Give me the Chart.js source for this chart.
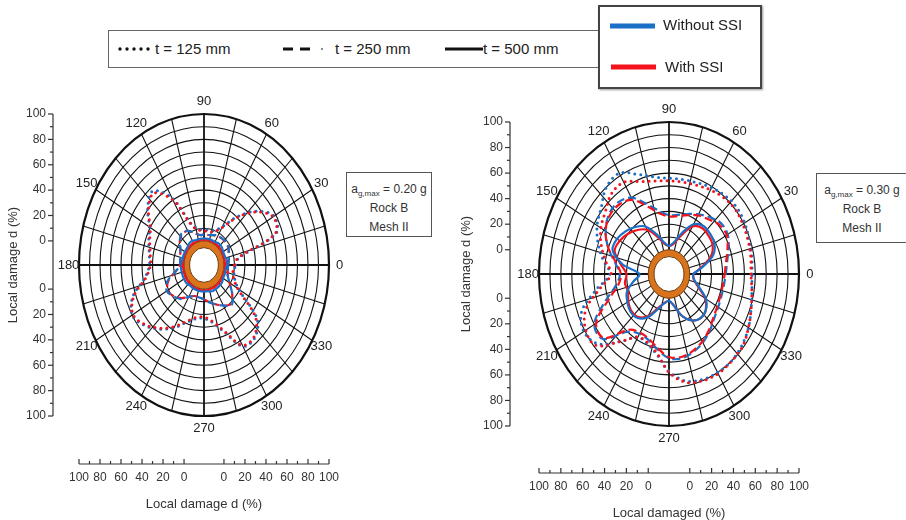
<!DOCTYPE html>
<html>
<head>
<meta charset="utf-8">
<title>Local damage – polar plots</title>
<script src="https://cdn.jsdelivr.net/npm/chart.js@4.4.0/dist/chart.umd.min.js"></script>
<style>
  body { margin: 0; background: #fff; font-family: "Liberation Sans", Arial, sans-serif; color: #222; }
  #page { position: relative; width: 906px; height: 520px; overflow: hidden; }
  #page canvas { position: absolute; top: 0; }
  .box { position: absolute; background: #fff; box-sizing: border-box; }
  .lg { position: absolute; font-size: 15px; line-height: 18px; color: #222; white-space: nowrap; }
  .lg svg { position: absolute; }
  .note { position: absolute; border: 1.3px solid #555; background: #fff; box-sizing: border-box;
          font-size: 12px; line-height: 19px; text-align: center; padding-top: 7px; color: #333; }
  .note sub { font-size: 8px; vertical-align: -3px; line-height: 0; }
</style>
</head>
<body>
<div id="page">
  <canvas id="plotA" width="453" height="520" style="left:0"></canvas>
  <canvas id="plotB" width="453" height="520" style="left:453px"></canvas>

  <!-- thickness legend -->
  <div class="box" style="left:108px;top:30px;width:500px;height:38px;border:1.5px solid #666;"></div>
  <svg class="lg" style="left:117px;top:46px" width="36" height="6"><line x1="3" y1="3" x2="34" y2="3" stroke="#111" stroke-width="3.4" stroke-linecap="round" stroke-dasharray="0 7"/></svg>
  <div class="lg" style="left:155px;top:40px">t = 125 mm</div>
  <svg class="lg" style="left:282px;top:46px" width="44" height="6"><line x1="1" y1="3" x2="32" y2="3" stroke="#111" stroke-width="3" stroke-dasharray="10 7"/><circle cx="40" cy="3" r="1" fill="#666"/></svg>
  <div class="lg" style="left:335px;top:40px">t = 250 mm</div>
  <svg class="lg" style="left:445px;top:46px" width="38" height="6"><line x1="0" y1="3" x2="38" y2="3" stroke="#111" stroke-width="3"/></svg>
  <div class="lg" style="left:483px;top:40px">t = 500 mm</div>

  <!-- soil-structure interaction legend -->
  <div class="box" style="left:598px;top:5px;width:164px;height:84px;border:2px solid #444;box-shadow:1px 1px 2px #999;"></div>
  <svg class="lg" style="left:610px;top:23px" width="45" height="6"><line x1="0" y1="3" x2="45" y2="3" stroke="#1b6fc6" stroke-width="5"/></svg>
  <div class="lg" style="left:663px;top:16px">Without SSI</div>
  <svg class="lg" style="left:611px;top:64px" width="45" height="6"><line x1="0" y1="3" x2="45" y2="3" stroke="#f2131c" stroke-width="5"/></svg>
  <div class="lg" style="left:665px;top:58px">With SSI</div>

  <!-- load case notes -->
  <div class="note" style="left:346px;top:172px;width:86px;height:65px;">a<sub>g,max</sub> = 0.20 g<br>Rock B<br>Mesh II</div>
  <div class="note" style="left:816px;top:173px;width:100px;height:70px;padding-right:8px;">a<sub>g,max</sub> = 0.30 g<br>Rock B<br>Mesh II</div>
</div>

<script>
// direction of the local damage value, degrees
const ANGLES = [0, 10, 20, 30, 40, 50, 60, 70, 80, 90, 100, 110,
                120, 130, 140, 150, 160, 170, 180, 190, 200, 210, 220, 230,
                240, 250, 260, 270, 280, 290, 300, 310, 320, 330, 340, 350];

// ag,max = 0.20 g — local damage d (%)
const A_125_FREE = [11, 15, 54, 58, 47, 31, 16, 10, 9, 9, 10, 15, 42, 57, 51, 41, 37, 34, 33, 38, 53, 60, 55, 47, 38, 29, 24, 23, 27, 37, 55, 56, 47, 19, 12, 10];
const A_125_SSI  = [10, 14, 53, 57, 46, 30, 15, 9, 8, 8, 9, 14, 40, 55, 50, 40, 36, 33, 32, 37, 52, 59, 54, 46, 37, 28, 23, 22, 26, 36, 54, 55, 45, 18, 11, 9];
const A_250_FREE = [4, 5, 6, 8, 9, 8, 8, 6, 5, 5, 5, 8, 12, 14, 11, 7, 5, 4, 4, 8, 18, 22, 19, 16, 10, 7, 7, 8, 11, 14, 18, 22, 16, 9, 5, 4];
const A_250_SSI  = [4, 5, 6, 8, 8, 8, 7, 6, 5, 5, 5, 8, 12, 13, 11, 7, 5, 4, 4, 8, 17, 21, 19, 15, 10, 7, 7, 8, 11, 14, 18, 21, 16, 9, 5, 4];
const A_500_FREE = [3, 3, 2, 2, 3, 3, 2, 2, 2, 2, 2, 2, 3, 3, 2, 2, 2, 2, 3, 3, 3, 3, 3, 2, 2, 2, 2, 2, 2, 3, 3, 3, 3, 2, 2, 2];
const A_500_SSI  = [1, 1, 1, 1, 1, 1, 1, 1, 1, 1, 1, 1, 1, 1, 1, 1, 1, 1, 1, 1, 1, 1, 1, 1, 1, 1, 1, 1, 1, 1, 1, 1, 1, 1, 1, 1];

// ag,max = 0.30 g — local damage d (%)
const B_125_FREE = [57, 58, 59, 61, 62, 61, 59, 57, 56, 56, 58, 64, 72, 70, 62, 57, 50, 42, 35, 48, 66, 71, 66, 50, 38, 39, 45, 57, 66, 69, 70, 70, 68, 65, 61, 58];
const B_125_SSI  = [56, 57, 58, 59, 60, 59, 57, 55, 54, 54, 55, 58, 64, 63, 57, 53, 47, 40, 34, 45, 62, 69, 68, 50, 38, 38, 44, 58, 67, 70, 71, 70, 69, 65, 61, 58];
const B_250_FREE = [33, 35, 39, 43, 43, 39, 35, 31, 28, 27, 31, 39, 50, 54, 53, 48, 40, 31, 26, 30, 43, 60, 60, 40, 35, 36, 41, 47, 48, 46, 43, 39, 35, 33, 32, 32];
const B_250_SSI  = [32, 34, 38, 42, 41, 37, 34, 30, 27, 26, 29, 37, 48, 52, 52, 48, 40, 30, 25, 28, 40, 58, 59, 38, 34, 35, 40, 46, 47, 45, 42, 38, 34, 32, 31, 31];
const B_500_FREE = [3, 12, 24, 29, 30, 30, 26, 15, 6, 3, 6, 14, 24, 29, 33, 36, 36, 24, 8, 14, 22, 25, 27, 26, 20, 10, 4, 2, 6, 16, 23, 26, 25, 20, 10, 4];
const B_500_SSI  = [3, 11, 22, 27, 28, 28, 24, 13, 5, 3, 5, 12, 21, 26, 30, 33, 34, 26, 20, 22, 21, 24, 26, 25, 19, 9, 4, 2, 6, 16, 23, 26, 25, 19, 9, 4];

// axis labels
const SIDE_TICKS = [0, 20, 40, 60, 80, 100];
const ANGLE_LABELS = [0, 30, 60, 90, 120, 150, 180, 210, 240, 270, 300, 330];

const HOLE = 19;            // tunnel section drawn in the middle (damage units)
const R_MAX = HOLE + 100;
const BLUE = '#1b6fc6';
const RED = '#f2131c';

function polarPoints(values) {
  const pts = ANGLES.map((a, i) => {
    const r = HOLE + values[i];
    const t = a * Math.PI / 180;
    return { x: r * Math.cos(t), y: r * Math.sin(t) };
  });
  pts.push(pts[0]);
  return pts;
}

const STYLE = {
  125: { borderDash: [0, 6], borderWidth: 3, borderCapStyle: 'round' },
  250: { borderDash: [8, 4], borderWidth: 2.2, borderCapStyle: 'butt' },
  500: { borderDash: [], borderWidth: 2.2, borderCapStyle: 'butt' }
};

// lower "order" is painted later, i.e. on top
function series(values, color, t, order) {
  return Object.assign({
    data: polarPoints(values),
    borderColor: color,
    showLine: true,
    pointRadius: 0,
    tension: 0.35,
    fill: false,
    order: order
  }, STYLE[t]);
}

// polar grid, tunnel ring, angle labels and the two side axes
const polarFrame = {
  id: 'polarFrame',
  beforeDatasetsDraw(chart) {
    const { ctx, scales: { x, y } } = chart;
    const cx = x.getPixelForValue(0), cy = y.getPixelForValue(0);
    const kx = x.getPixelForValue(1) - cx, ky = cy - y.getPixelForValue(1);
    ctx.save();
    ctx.strokeStyle = '#111';
    for (let d = 10; d <= 100; d += 10) {
      ctx.lineWidth = d === 100 ? 2.2 : 1.1;
      ctx.beginPath();
      ctx.ellipse(cx, cy, (HOLE + d) * kx, (HOLE + d) * ky, 0, 0, Math.PI * 2);
      ctx.stroke();
    }
    for (let a = 0; a < 360; a += 15) {
      const t = a * Math.PI / 180;
      ctx.lineWidth = a % 90 === 0 ? 1.8 : 1.1;
      ctx.beginPath();
      ctx.moveTo(cx + HOLE * kx * Math.cos(t), cy - HOLE * ky * Math.sin(t));
      ctx.lineTo(cx + R_MAX * kx * Math.cos(t), cy - R_MAX * ky * Math.sin(t));
      ctx.stroke();
    }
    // tunnel lining
    const rin = HOLE * 0.72;
    ctx.beginPath();
    ctx.ellipse(cx, cy, HOLE * kx, HOLE * ky, 0, 0, Math.PI * 2);
    ctx.ellipse(cx, cy, rin * kx, rin * ky, 0, Math.PI * 2, 0, true);
    ctx.fillStyle = '#d9741c';
    ctx.fill('evenodd');
    ctx.lineWidth = 1;
    ctx.strokeStyle = '#6b3c12';
    ctx.beginPath();
    ctx.ellipse(cx, cy, HOLE * kx, HOLE * ky, 0, 0, Math.PI * 2);
    ctx.stroke();
    ctx.beginPath();
    ctx.ellipse(cx, cy, rin * kx, rin * ky, 0, 0, Math.PI * 2);
    ctx.stroke();
    ctx.restore();
  },
  afterDraw(chart, args, opts) {
    const { ctx, chartArea, scales: { x, y } } = chart;
    const cx = x.getPixelForValue(0), cy = y.getPixelForValue(0);
    const kx = x.getPixelForValue(1) - cx, ky = cy - y.getPixelForValue(1);
    ctx.save();
    ctx.fillStyle = '#222';
    ctx.font = '13px "Liberation Sans", Arial, sans-serif';
    ctx.textAlign = 'center';
    ctx.textBaseline = 'middle';
    const rl = R_MAX + 10;
    for (const a of ANGLE_LABELS) {
      const t = a * Math.PI / 180;
      ctx.fillText(String(a), cx + rl * kx * Math.cos(t), cy - rl * ky * Math.sin(t));
    }

    // vertical damage axis
    ctx.strokeStyle = '#333';
    ctx.fillStyle = '#333';
    ctx.lineWidth = 1.2;
    ctx.font = '12px "Liberation Sans", Arial, sans-serif';
    const ax = chartArea.left - opts.yGap;
    ctx.beginPath();
    ctx.moveTo(ax, y.getPixelForValue(R_MAX));
    ctx.lineTo(ax, y.getPixelForValue(-R_MAX));
    ctx.stroke();
    ctx.textAlign = 'right';
    for (const s of [1, -1]) {
      for (let d = 0; d <= 100; d += 10) {
        const py = y.getPixelForValue(s * (HOLE + d));
        const len = d % 20 === 0 ? 5 : 3;
        ctx.beginPath();
        ctx.moveTo(ax - len, py);
        ctx.lineTo(ax, py);
        ctx.stroke();
      }
      for (const v of SIDE_TICKS) {
        ctx.fillText(String(v), ax - 7, y.getPixelForValue(s * (HOLE + v)));
      }
    }

    // horizontal damage axis
    const ay = chartArea.bottom + opts.xGap;
    ctx.beginPath();
    ctx.moveTo(x.getPixelForValue(-R_MAX), ay);
    ctx.lineTo(x.getPixelForValue(R_MAX), ay);
    ctx.stroke();
    ctx.textAlign = 'center';
    for (const s of [1, -1]) {
      for (let d = 0; d <= 100; d += 10) {
        const px = x.getPixelForValue(s * (HOLE + d));
        const len = d % 20 === 0 ? 5 : 3;
        ctx.beginPath();
        ctx.moveTo(px, ay - len);
        ctx.lineTo(px, ay);
        ctx.stroke();
      }
      for (const v of SIDE_TICKS) {
        ctx.fillText(String(v), x.getPixelForValue(s * (HOLE + v)), ay + 14);
      }
    }

    // axis titles
    ctx.font = '13px "Liberation Sans", Arial, sans-serif';
    ctx.fillText(opts.titleX, cx, ay + 40);
    ctx.translate(ax - opts.titleGap, cy);
    ctx.rotate(-Math.PI / 2);
    ctx.fillText(opts.titleY, 0, 0);
    ctx.restore();
  }
};

function makePlot(id, sets, order, pad, frame) {
  return new Chart(document.getElementById(id), {
    type: 'scatter',
    data: {
      datasets: [
        series(sets[0], BLUE, 125, order[0]), series(sets[1], RED, 125, order[1]),
        series(sets[2], BLUE, 250, order[2]), series(sets[3], RED, 250, order[3]),
        series(sets[4], BLUE, 500, order[4]), series(sets[5], RED, 500, order[5])
      ]
    },
    options: {
      responsive: false,
      animation: false,
      layout: { padding: pad },
      scales: {
        x: { type: 'linear', min: -R_MAX, max: R_MAX, display: false },
        y: { type: 'linear', min: -R_MAX, max: R_MAX, display: false }
      },
      plugins: {
        legend: { display: false },
        tooltip: { enabled: false },
        polarFrame: frame
      }
    },
    plugins: [polarFrame]
  });
}

makePlot('plotA',
  [A_125_FREE, A_125_SSI, A_250_FREE, A_250_SSI, A_500_FREE, A_500_SSI],
  [2, 1, 3, 4, 5, 6],
  { left: 79, right: 124, top: 114, bottom: 104 },
  { yGap: 26, xGap: 48, titleGap: 40, titleX: 'Local damage d (%)', titleY: 'Local damage d (%)' });

makePlot('plotB',
  [B_125_FREE, B_125_SSI, B_250_FREE, B_250_SSI, B_500_FREE, B_500_SSI],
  [2, 1, 4, 3, 5, 6],
  { left: 86, right: 107, top: 122, bottom: 94 },
  { yGap: 29, xGap: 47, titleGap: 44, titleX: 'Local damaged (%)', titleY: 'Local damage d (%)' });
</script>
</body>
</html>
